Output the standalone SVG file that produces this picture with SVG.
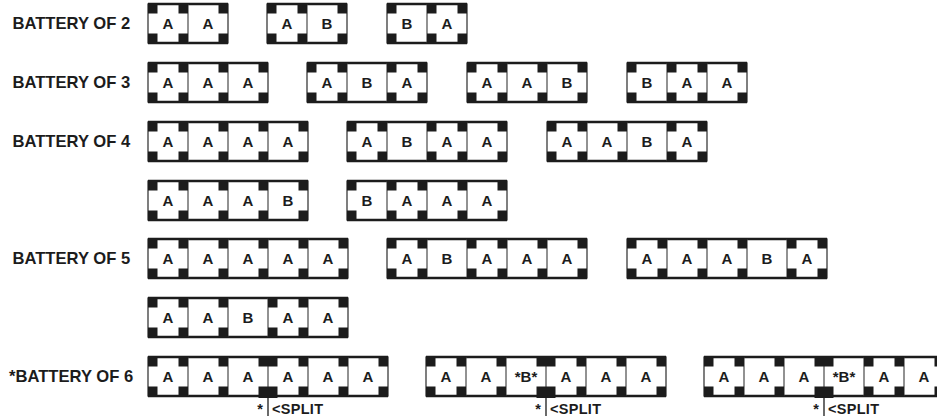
<svg xmlns="http://www.w3.org/2000/svg" xmlns:xlink="http://www.w3.org/1999/xlink" width="937" height="417" viewBox="0 0 937 417">
<style>
.frame{fill:#fff;stroke:#2a2a2a;stroke-width:1.2}
.edge{stroke:#1c1c1c;stroke-width:2.4;fill:none}
.div{stroke:#3a3a3a;stroke-width:1.1;fill:none}
.blk{fill:#1c1c1c}
.cl{font-family:"Liberation Sans",Arial,sans-serif;font-weight:bold;font-size:15px;text-anchor:middle;fill:#1c1c1c}
.lbl{font-family:"Liberation Sans",Arial,sans-serif;font-weight:bold;font-size:16.6px;fill:#1c1c1c}
.sp{font-family:"Liberation Sans",Arial,sans-serif;font-weight:bold;font-size:14.5px;fill:#1c1c1c}
.split{stroke:#1c1c1c;stroke-width:1.3;fill:none}
</style>
<defs>
<g id="bp"><rect class="blk" x="0" y="0" width="9.5" height="9.5"/><rect class="blk" x="0" y="29.5" width="9.5" height="9.5"/></g>
<g id="bs"><rect class="blk" x="0" y="0" width="19" height="9.5"/><rect class="blk" x="0" y="29.5" width="19" height="11.5"/></g>
</defs>
<rect width="937" height="417" fill="#fff"/>
<g id="labels">
<text class="lbl" x="12.5" y="29.3">BATTERY OF 2</text>
<text class="lbl" x="12.5" y="88.3">BATTERY OF 3</text>
<text class="lbl" x="12.5" y="147.3">BATTERY OF 4</text>
<text class="lbl" x="12.5" y="264.3">BATTERY OF 5</text>
<text class="lbl" x="9" y="382.3">*BATTERY OF 6</text>
</g>

<!-- Row 1 -->
<g id="b2-aa">
<rect class="frame" x="148" y="4" width="80" height="39"/>
<path class="edge" d="M148 4H228M148 43H228"/>
<path class="div" d="M188 4V43"/>
<use href="#bp" x="148" y="4"/><use href="#bp" x="178.5" y="4"/><use href="#bp" x="218.5" y="4"/>
<text class="cl" x="168" y="29">A</text><text class="cl" x="208" y="29">A</text>
</g>
<g id="b2-ab">
<rect class="frame" x="267" y="4" width="80" height="39"/>
<path class="edge" d="M267 4H347M267 43H347"/>
<path class="div" d="M307 4V43"/>
<use href="#bp" x="267" y="4"/><use href="#bp" x="297.5" y="4"/><use href="#bp" x="337.5" y="4"/>
<text class="cl" x="287" y="29">A</text><text class="cl" x="327" y="29">B</text>
</g>
<g id="b2-ba">
<rect class="frame" x="387" y="4" width="80" height="39"/>
<path class="edge" d="M387 4H467M387 43H467"/>
<path class="div" d="M427 4V43"/>
<use href="#bp" x="387" y="4"/><use href="#bp" x="427" y="4"/><use href="#bp" x="457.5" y="4"/>
<text class="cl" x="407" y="29">B</text><text class="cl" x="447" y="29">A</text>
</g>

<!-- Row 2 -->
<g id="b3-aaa">
<rect class="frame" x="148" y="63" width="120" height="39"/>
<path class="edge" d="M148 63H268M148 102H268"/>
<path class="div" d="M188 63V102M228 63V102"/>
<use href="#bp" x="148" y="63"/><use href="#bp" x="178.5" y="63"/><use href="#bp" x="218.5" y="63"/><use href="#bp" x="258.5" y="63"/>
<text class="cl" x="168" y="88">A</text><text class="cl" x="208" y="88">A</text><text class="cl" x="248" y="88">A</text>
</g>
<g id="b3-aba">
<rect class="frame" x="307" y="63" width="120" height="39"/>
<path class="edge" d="M307 63H427M307 102H427"/>
<path class="div" d="M347 63V102M387 63V102"/>
<use href="#bp" x="307" y="63"/><use href="#bp" x="337.5" y="63"/><use href="#bp" x="387" y="63"/><use href="#bp" x="417.5" y="63"/>
<text class="cl" x="327" y="88">A</text><text class="cl" x="367" y="88">B</text><text class="cl" x="407" y="88">A</text>
</g>
<g id="b3-aab">
<rect class="frame" x="467" y="63" width="120" height="39"/>
<path class="edge" d="M467 63H587M467 102H587"/>
<path class="div" d="M507 63V102M547 63V102"/>
<use href="#bp" x="467" y="63"/><use href="#bp" x="497.5" y="63"/><use href="#bp" x="537.5" y="63"/><use href="#bp" x="577.5" y="63"/>
<text class="cl" x="487" y="88">A</text><text class="cl" x="527" y="88">A</text><text class="cl" x="567" y="88">B</text>
</g>
<g id="b3-baa">
<rect class="frame" x="627" y="63" width="120" height="39"/>
<path class="edge" d="M627 63H747M627 102H747"/>
<path class="div" d="M667 63V102M707 63V102"/>
<use href="#bp" x="627" y="63"/><use href="#bp" x="667" y="63"/><use href="#bp" x="697.5" y="63"/><use href="#bp" x="737.5" y="63"/>
<text class="cl" x="647" y="88">B</text><text class="cl" x="687" y="88">A</text><text class="cl" x="727" y="88">A</text>
</g>

<!-- Row 3 -->
<g id="b4-aaaa">
<rect class="frame" x="148" y="122" width="160" height="39"/>
<path class="edge" d="M148 122H308M148 161H308"/>
<path class="div" d="M188 122V161M228 122V161M268 122V161"/>
<use href="#bp" x="148" y="122"/><use href="#bp" x="178.5" y="122"/><use href="#bp" x="218.5" y="122"/><use href="#bp" x="258.5" y="122"/><use href="#bp" x="298.5" y="122"/>
<text class="cl" x="168" y="147">A</text><text class="cl" x="208" y="147">A</text><text class="cl" x="248" y="147">A</text><text class="cl" x="288" y="147">A</text>
</g>
<g id="b4-abaa">
<rect class="frame" x="347" y="122" width="160" height="39"/>
<path class="edge" d="M347 122H507M347 161H507"/>
<path class="div" d="M387 122V161M427 122V161M467 122V161"/>
<use href="#bp" x="347" y="122"/><use href="#bp" x="377.5" y="122"/><use href="#bp" x="427" y="122"/><use href="#bp" x="457.5" y="122"/><use href="#bp" x="497.5" y="122"/>
<text class="cl" x="367" y="147">A</text><text class="cl" x="407" y="147">B</text><text class="cl" x="447" y="147">A</text><text class="cl" x="487" y="147">A</text>
</g>
<g id="b4-aaba">
<rect class="frame" x="547" y="122" width="160" height="39"/>
<path class="edge" d="M547 122H707M547 161H707"/>
<path class="div" d="M587 122V161M627 122V161M667 122V161"/>
<use href="#bp" x="547" y="122"/><use href="#bp" x="577.5" y="122"/><use href="#bp" x="617.5" y="122"/><use href="#bp" x="667" y="122"/><use href="#bp" x="697.5" y="122"/>
<text class="cl" x="567" y="147">A</text><text class="cl" x="607" y="147">A</text><text class="cl" x="647" y="147">B</text><text class="cl" x="687" y="147">A</text>
</g>

<!-- Row 4 -->
<g id="b4-aaab">
<rect class="frame" x="148" y="181" width="160" height="39"/>
<path class="edge" d="M148 181H308M148 220H308"/>
<path class="div" d="M188 181V220M228 181V220M268 181V220"/>
<use href="#bp" x="148" y="181"/><use href="#bp" x="178.5" y="181"/><use href="#bp" x="218.5" y="181"/><use href="#bp" x="258.5" y="181"/><use href="#bp" x="298.5" y="181"/>
<text class="cl" x="168" y="206">A</text><text class="cl" x="208" y="206">A</text><text class="cl" x="248" y="206">A</text><text class="cl" x="288" y="206">B</text>
</g>
<g id="b4-baaa">
<rect class="frame" x="347" y="181" width="160" height="39"/>
<path class="edge" d="M347 181H507M347 220H507"/>
<path class="div" d="M387 181V220M427 181V220M467 181V220"/>
<use href="#bp" x="347" y="181"/><use href="#bp" x="387" y="181"/><use href="#bp" x="417.5" y="181"/><use href="#bp" x="457.5" y="181"/><use href="#bp" x="497.5" y="181"/>
<text class="cl" x="367" y="206">B</text><text class="cl" x="407" y="206">A</text><text class="cl" x="447" y="206">A</text><text class="cl" x="487" y="206">A</text>
</g>

<!-- Row 5 -->
<g id="b5-aaaaa">
<rect class="frame" x="148" y="239" width="200" height="39"/>
<path class="edge" d="M148 239H348M148 278H348"/>
<path class="div" d="M188 239V278M228 239V278M268 239V278M308 239V278"/>
<use href="#bp" x="148" y="239"/><use href="#bp" x="178.5" y="239"/><use href="#bp" x="218.5" y="239"/><use href="#bp" x="258.5" y="239"/><use href="#bp" x="298.5" y="239"/><use href="#bp" x="338.5" y="239"/>
<text class="cl" x="168" y="264">A</text><text class="cl" x="208" y="264">A</text><text class="cl" x="248" y="264">A</text><text class="cl" x="288" y="264">A</text><text class="cl" x="328" y="264">A</text>
</g>
<g id="b5-abaaa">
<rect class="frame" x="387" y="239" width="200" height="39"/>
<path class="edge" d="M387 239H587M387 278H587"/>
<path class="div" d="M427 239V278M467 239V278M507 239V278M547 239V278"/>
<use href="#bp" x="387" y="239"/><use href="#bp" x="417.5" y="239"/><use href="#bp" x="467" y="239"/><use href="#bp" x="497.5" y="239"/><use href="#bp" x="537.5" y="239"/><use href="#bp" x="577.5" y="239"/>
<text class="cl" x="407" y="264">A</text><text class="cl" x="447" y="264">B</text><text class="cl" x="487" y="264">A</text><text class="cl" x="527" y="264">A</text><text class="cl" x="567" y="264">A</text>
</g>
<g id="b5-aaaba">
<rect class="frame" x="627" y="239" width="200" height="39"/>
<path class="edge" d="M627 239H827M627 278H827"/>
<path class="div" d="M667 239V278M707 239V278M747 239V278M787 239V278"/>
<use href="#bp" x="627" y="239"/><use href="#bp" x="657.5" y="239"/><use href="#bp" x="697.5" y="239"/><use href="#bp" x="737.5" y="239"/><use href="#bp" x="787" y="239"/><use href="#bp" x="817.5" y="239"/>
<text class="cl" x="647" y="264">A</text><text class="cl" x="687" y="264">A</text><text class="cl" x="727" y="264">A</text><text class="cl" x="767" y="264">B</text><text class="cl" x="807" y="264">A</text>
</g>

<!-- Row 6 -->
<g id="b5-aabaa">
<rect class="frame" x="148" y="298" width="200" height="39"/>
<path class="edge" d="M148 298H348M148 337H348"/>
<path class="div" d="M188 298V337M228 298V337M268 298V337M308 298V337"/>
<use href="#bp" x="148" y="298"/><use href="#bp" x="178.5" y="298"/><use href="#bp" x="218.5" y="298"/><use href="#bp" x="268" y="298"/><use href="#bp" x="298.5" y="298"/><use href="#bp" x="338.5" y="298"/>
<text class="cl" x="168" y="323">A</text><text class="cl" x="208" y="323">A</text><text class="cl" x="248" y="323">B</text><text class="cl" x="288" y="323">A</text><text class="cl" x="328" y="323">A</text>
</g>

<!-- Row 7 -->
<g id="b6-aaaaaa">
<rect class="frame" x="148" y="357" width="240" height="39"/>
<path class="edge" d="M148 357H388M148 396H388"/>
<path class="div" d="M188 357V396M228 357V396M268 357V396M308 357V396M348 357V396"/>
<use href="#bp" x="148" y="357"/><use href="#bp" x="178.5" y="357"/><use href="#bp" x="218.5" y="357"/><use href="#bs" x="258.5" y="357"/><use href="#bp" x="298.5" y="357"/><use href="#bp" x="338.5" y="357"/><use href="#bp" x="378.5" y="357"/>
<text class="cl" x="168" y="382">A</text><text class="cl" x="208" y="382">A</text><text class="cl" x="248" y="382">A</text><text class="cl" x="288" y="382">A</text><text class="cl" x="328" y="382">A</text><text class="cl" x="368" y="382">A</text>
</g>
<g id="b6-aabaaa">
<rect class="frame" x="426" y="357" width="240" height="39"/>
<path class="edge" d="M426 357H666M426 396H666"/>
<path class="div" d="M466 357V396M506 357V396M546 357V396M586 357V396M626 357V396"/>
<use href="#bp" x="426" y="357"/><use href="#bp" x="456.5" y="357"/><use href="#bp" x="496.5" y="357"/><use href="#bs" x="536.5" y="357"/><use href="#bp" x="576.5" y="357"/><use href="#bp" x="616.5" y="357"/><use href="#bp" x="656.5" y="357"/>
<text class="cl" x="446" y="382">A</text><text class="cl" x="486" y="382">A</text><text class="cl" x="526" y="382">*B*</text><text class="cl" x="566" y="382">A</text><text class="cl" x="606" y="382">A</text><text class="cl" x="646" y="382">A</text>
</g>
<g id="b6-aaabaa">
<rect class="frame" x="704" y="357" width="240" height="39"/>
<path class="edge" d="M704 357H944M704 396H944"/>
<path class="div" d="M744 357V396M784 357V396M824 357V396M864 357V396M904 357V396"/>
<use href="#bp" x="704" y="357"/><use href="#bp" x="734.5" y="357"/><use href="#bp" x="774.5" y="357"/><use href="#bs" x="814.5" y="357"/><use href="#bp" x="864" y="357"/><use href="#bp" x="894.5" y="357"/><use href="#bp" x="934.5" y="357"/>
<text class="cl" x="724" y="382">A</text><text class="cl" x="764" y="382">A</text><text class="cl" x="804" y="382">A</text><text class="cl" x="844" y="382">*B*</text><text class="cl" x="884" y="382">A</text><text class="cl" x="924" y="382">A</text>
</g>

<g id="connectors">
<path class="split" d="M268 396V416M546 396V416M824 396V416"/>
</g>
<g id="split-labels">
<text class="sp" x="263" y="414" text-anchor="end">*</text><text class="sp" x="272" y="414" letter-spacing="0.3">&lt;SPLIT</text>
<text class="sp" x="541" y="414" text-anchor="end">*</text><text class="sp" x="550" y="414" letter-spacing="0.3">&lt;SPLIT</text>
<text class="sp" x="819" y="414" text-anchor="end">*</text><text class="sp" x="828" y="414" letter-spacing="0.3">&lt;SPLIT</text>
</g>
</svg>
